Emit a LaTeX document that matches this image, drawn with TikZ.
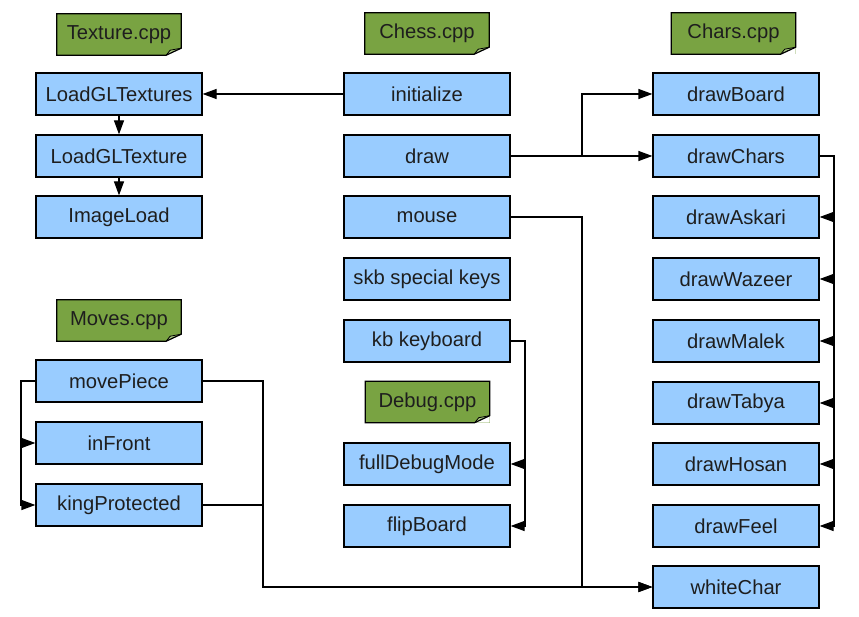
\documentclass[tikz,border=0pt]{standalone}
\usepackage{fontspec}
\setmainfont{Liberation Sans}
\usepackage{tikz}
\usetikzlibrary{arrows.meta}
\definecolor{funcblue}{RGB}{153,204,255}
\definecolor{notegreen}{RGB}{121,163,66}
\definecolor{foldgreen}{RGB}{170,200,130}
\definecolor{labelgray}{RGB}{30,30,30}
\tikzstyle{func}=[draw, line width=1.2pt, fill=funcblue, minimum width=166, minimum height=42, inner sep=0, text=labelgray, font=\fontsize{20.2}{24}\selectfont]
\tikzstyle{note}=[fill=notegreen, minimum width=124, minimum height=41, inner sep=0, text=labelgray, font=\fontsize{20.2}{24}\selectfont]
\tikzstyle{link}=[draw=black, line width=1.2pt]
\tikzstyle{linkarrow}=[link, -{Triangle[length=14pt, width=10pt]}]
\newcommand{\cppnote}[3]{%
  \node (#1) at (#2)[note] {#3};
  \fill[white] (#1.south east) -- ([yshift=7]#1.south east) -- ([xshift=-15]#1.south east) -- cycle;
  \fill[foldgreen] ([yshift=7]#1.south east) -- ([xshift=-15]#1.south east) -- ([xshift=-11, yshift=5]#1.south east) -- cycle;
  \draw[line width=1.2pt] (#1.south west) -- (#1.north west) -- (#1.north east) -- ([yshift=7]#1.south east) -- ([xshift=-15]#1.south east) -- cycle;
  \draw[line width=0.8pt] ([yshift=7]#1.south east) -- ([xshift=-11, yshift=5]#1.south east) -- ([xshift=-15]#1.south east);
}
\begin{document}
\begin{tikzpicture}[x=1pt, y=-1pt]
		   \useasboundingbox (0, 0) rectangle (859, 617);
		   \begin{scope}
			   \cppnote{texturecpp}{119, 34.5}{Texture.cpp}
			   \cppnote{chesscpp}{427, 33.5}{Chess.cpp}
			   \cppnote{charscpp}{733.5, 33.5}{Chars.cpp}
			   \cppnote{movescpp}{119, 320.5}{Moves.cpp}
			   \cppnote{debugcpp}{427.5, 402}{Debug.cpp}
		   \end{scope}
		   \begin{scope}
			   \node (loadtextures) at (119, 94)[func] {LoadGLTextures};
			   \node (loadtexture) at (119, 156)[func] {LoadGLTexture};
			   \node (imageload) at (119, 217)[func] {ImageLoad};
			   \node (movepiece) at (119, 381)[func] {movePiece};
			   \node (infront) at (119, 443)[func] {inFront};
			   \node (kingprotected) at (119, 505)[func] {kingProtected};
		   \end{scope}
		   \begin{scope}
			   \node (initialize) at (427, 94)[func] {initialize};
			   \node (draw) at (427, 156)[func] {draw};
			   \node (mouse) at (427, 217)[func] {mouse};
			   \node (skb) at (427, 279)[func] {skb special keys};
			   \node (kb) at (427, 341)[func] {kb keyboard};
			   \node (fulldebug) at (427, 464)[func] {fullDebugMode};
			   \node (flipboard) at (427, 526)[func] {flipBoard};
		   \end{scope}
		   \begin{scope}
			   \node (drawboard) at (736, 94)[func] {drawBoard};
			   \node (drawchars) at (736, 156)[func] {drawChars};
			   \node (drawaskari) at (736, 217)[func] {drawAskari};
			   \node (drawwazeer) at (736, 279)[func] {drawWazeer};
			   \node (drawmalek) at (736, 341)[func] {drawMalek};
			   \node (drawtabya) at (736, 403)[func] {drawTabya};
			   \node (drawhosan) at (736, 464)[func] {drawHosan};
			   \node (drawfeel) at (736, 526)[func] {drawFeel};
			   \node (whitechar) at (736, 587)[func] {whiteChar};
		   \end{scope}
		   \begin{scope}
			   \coordinate (drawsplit) at (582, 156);
			   \coordinate (mouseturn) at (582, 217);
			   \coordinate (moveturn) at (263, 381);
			   \coordinate (moveleft) at (21, 381);
			   \coordinate (kbturn) at (525, 341);
			   \coordinate (charsturn) at (834, 156);
			   \path [linkarrow] (initialize.west) -- (loadtextures.east);
			   \path [linkarrow] (loadtextures) -- (loadtexture);
			   \path [linkarrow] (loadtexture) -- (imageload);
			   \path [linkarrow] (draw.east) -- (drawchars.west);
			   \path [linkarrow] (drawsplit) |- (drawboard.west);
			   \path [linkarrow] (mouse.east) -- (mouseturn) |- (whitechar.west);
			   \path [linkarrow] (movepiece.east) -- (moveturn) |- (whitechar.west);
			   \path [link] (kingprotected.east) -- (kingprotected.east -| moveturn);
			   \path [linkarrow] (movepiece.west) -- (moveleft) |- (kingprotected.west);
			   \path [linkarrow] (moveleft) |- (infront.west);
			   \path [linkarrow] (kb.east) -- (kbturn) |- (flipboard.east);
			   \path [linkarrow] (kbturn) |- (fulldebug.east);
			   \path [linkarrow] (drawchars.east) -- (charsturn) |- (drawfeel.east);
			   \foreach \n in {drawaskari, drawwazeer, drawmalek, drawtabya, drawhosan}
				   \path [linkarrow] (charsturn) |- (\n.east);
		   \end{scope}
	   \end{tikzpicture}
\end{document}
